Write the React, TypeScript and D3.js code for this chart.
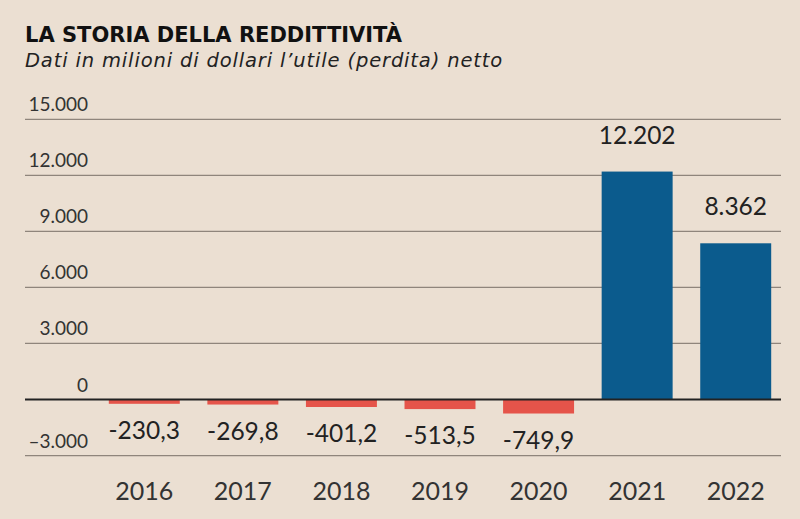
import React from "react";
import * as d3 from "d3";

const years = ["2016", "2017", "2018", "2019", "2020", "2021", "2022"];
const values = [-230.3, -269.8, -401.2, -513.5, -749.9, 12202, 8362];
const valueLabels = ["-230,3", "-269,8", "-401,2", "-513,5", "-749,9", "12.202", "8.362"];
const ticks = [-3000, 0, 3000, 6000, 9000, 12000, 15000];
const tickLabels = ["–3.000", "0", "3.000", "6.000", "9.000", "12.000", "15.000"];

const W = 800;
const H = 519;
const BG = "#ebdfd2";
const BLUE = "#0b5b8d";
const RED = "#e5544a";
const FONT = "Lato, 'Open Sans', sans-serif";
const HFONT = "'DejaVu Sans', sans-serif";

export default function App() {
  const y = d3.scaleLinear().domain([0, 15000]).range([399.5, 119.3]);
  const x = d3
    .scaleBand<string>()
    .domain(years)
    .range([95, 785])
    .paddingInner(0.28)
    .paddingOuter(0.14);

  return (
    <svg
      width={W}
      height={H}
      style={{ position: "absolute", left: 0, top: 0, display: "block" }}
    >
      <rect x={0} y={0} width={W} height={H} fill={BG} />
      <text x={25} y={42} fontFamily={HFONT} fontWeight={700} fontSize={21} fill="#111">
        LA STORIA DELLA REDDITTIVITÀ
      </text>
      <text
        x={25}
        y={67}
        fontFamily={HFONT}
        fontStyle="italic"
        fontSize={19.5}
        letterSpacing={0.85}
        fill="#222"
      >
        Dati in milioni di dollari l’utile (perdita) netto
      </text>
      {ticks.map((t) =>
        t === 0 ? null : (
          <line key={"g" + t} x1={25} x2={781} y1={y(t)} y2={y(t)} stroke="#8f857c" strokeWidth={1.3} />
        )
      )}
      {ticks.map((t, i) => (
        <text
          key={"t" + t}
          x={88}
          y={y(t) - 8}
          textAnchor="end"
          fontFamily={FONT}
          fontSize={19}
          fill="#333"
        >
          {tickLabels[i]}
        </text>
      ))}
      {values.map((v, i) => (
        <rect
          key={"b" + i}
          x={x(years[i])}
          width={x.bandwidth()}
          y={v >= 0 ? y(v) : y(0)}
          height={Math.abs(y(v) - y(0))}
          fill={v >= 0 ? BLUE : RED}
        />
      ))}
      <line x1={25} x2={781} y1={y(0)} y2={y(0)} stroke="#222" strokeWidth={2} />
      {values.map((v, i) => (
        <text
          key={"l" + i}
          x={(x(years[i]) as number) + x.bandwidth() / 2}
          y={v >= 0 ? y(v) - 28 : y(v) + 35}
          textAnchor="middle"
          fontFamily={FONT}
          fontSize={24.5}
          fill="#222"
        >
          {valueLabels[i]}
        </text>
      ))}
      {years.map((yr) => (
        <text
          key={"x" + yr}
          x={(x(yr) as number) + x.bandwidth() / 2}
          y={500}
          textAnchor="middle"
          fontFamily={FONT}
          fontSize={25}
          fill="#333"
        >
          {yr}
        </text>
      ))}
    </svg>
  );
}
